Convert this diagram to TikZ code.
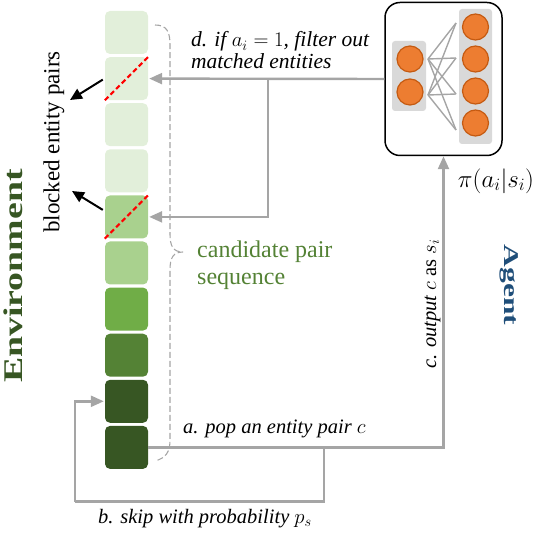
\documentclass[tikz,border=0pt]{standalone}
\usepackage{fontspec}
\setmainfont{Liberation Serif}
\usetikzlibrary{arrows.meta,calc}
\definecolor{gA}{HTML}{E2EFDA}
\definecolor{gB}{HTML}{A9D18E}
\definecolor{gC}{HTML}{70AD47}
\definecolor{gD}{HTML}{548235}
\definecolor{gE}{HTML}{375623}
\definecolor{arrgray}{HTML}{A5A5A5}
\definecolor{nnfill}{HTML}{ED7D31}
\definecolor{nnedge}{HTML}{C55A11}
\definecolor{panel}{HTML}{D9D9D9}
\definecolor{agentblue}{HTML}{1F4E79}
\begin{document}
\begin{tikzpicture}[x=1pt,y=-1pt,
  sq/.style={minimum size=43pt,inner sep=0pt,rounded corners=5pt,draw=none},
  reddash/.style={draw=red,line width=2pt,dash pattern=on 5pt off 3pt},
  blkarrow/.style={draw=black,line width=2pt,-{Triangle[length=12pt,width=11pt]}},
  garrow/.style={draw=arrgray,line width=2.4pt,-{Triangle[length=13pt,width=11pt]}},
  gline/.style={draw=arrgray,line width=2.4pt},
  bracestyle/.style={draw=arrgray,line width=1.1pt,dash pattern=on 6pt off 3pt},
  neuron/.style={circle,fill=nnfill,draw=nnedge,line width=1.2pt,minimum size=26pt,inner sep=0pt},
  conn/.style={draw=arrgray,line width=1.4pt},
  lbl/.style={font=\fontsize{20.5}{22}\selectfont\itshape,inner sep=0pt}
]
\useasboundingbox (0,0) rectangle (538,534);

% candidate sequence
\foreach \i/\c in {1/gA,2/gA,3/gA,4/gA,5/gB,6/gB,7/gC,8/gD,9/gE,10/gE}
  \node[sq,fill=\c] (s\i) at (126.5,{32.5+(\i-1)*46.1}) {};

\draw[reddash] (s2.south west) -- (s2.north east);
\draw[reddash] (s5.south west) -- (s5.north east);

% blocked pairs
\coordinate (b1) at (70,100);
\coordinate (b2) at (72,191);
\draw[blkarrow] ($(s2.west)+(-2,1)$) -- (b1);
\draw[blkarrow] ($(s5.west)+(-2,-7)$) -- (b2);
\node[rotate=90,font=\fontsize{23}{25}\selectfont,inner sep=0pt] (blk) at (54,142) {blocked entity pairs};

% Environment / Agent
\node[rotate=90,text=gE,inner sep=0pt] (env) at (13,276) {\scalebox{1.4}[1]{\fontsize{27}{29}\selectfont\bfseries Environment}};
\node[rotate=-90,text=agentblue,inner sep=0pt] (agent) at (509,285) {\scalebox{1.5}[1]{\fontsize{21}{23}\selectfont\bfseries Agent}};

% brace
\draw[bracestyle] (155,25) .. controls (167,25) and (170,32) .. (170,45) -- (170,234)
  .. controls (170,246) and (173,252) .. (183,252)
  .. controls (173,252) and (170,258) .. (170,270) -- (170,440)
  .. controls (170,452) and (166,458) .. (155,461);
\node[anchor=base west,text=gD,font=\fontsize{24}{27}\selectfont,inner sep=0pt] (cand1) at (197,258) {candidate pair};
\node[anchor=base west,text=gD,font=\fontsize{24}{27}\selectfont,inner sep=0pt] (cand2) at (197,285) {sequence};

% policy network
\node[draw=black,line width=1.5pt,rounded corners=15pt,minimum width=117pt,minimum height=153pt,inner sep=0pt] (nn) at (443.5,79) {};
\fill[panel,rounded corners=3pt] (392,41) rectangle (426,111);
\fill[panel,rounded corners=3pt] (459,9) rectangle (492,144);
\foreach \y in {23,58,94,130}{
  \draw[conn] (428,59) -- (456,\y);
  \draw[conn] (428,95) -- (456,\y);
}
\node[neuron] (l1) at (410,59) {};
\node[neuron] (l2) at (410,92) {};
\node[neuron] (r1) at (475.5,27) {};
\node[neuron] (r2) at (475.5,59) {};
\node[neuron] (r3) at (475.5,91) {};
\node[neuron] (r4) at (475.5,123) {};
\node[font=\fontsize{24}{26}\selectfont,inner sep=0pt] (pi) at (496,181) {$\pi(a_i|s_i)$};

% d: filter out
\coordinate (dj) at (268,79);
\draw[garrow,shorten >=1pt] (nn.west) -- (s2.east);
\draw[garrow,shorten >=1pt] (dj) |- (s5.east);
\node[lbl,anchor=base west,font=\fontsize{21.5}{22}\selectfont\itshape] (dlab1) at (191,47) {d. if $a_i=1$, filter out};
\node[lbl,anchor=base west,font=\fontsize{21.5}{22}\selectfont\itshape] (dlab2) at (191,69) {matched entities};

% a: pop, c: output
\draw[garrow] (s10.east) -| (nn.south);
\node[lbl,anchor=base west] (alab) at (183,433) {a. pop an entity pair $c$};
\node[lbl,rotate=90,anchor=base] (clab) at (436,304) {c. output $c$ \upshape as $s_i$};

% b: skip
\coordinate (bj) at (324,447.5);
\coordinate (bl) at (75,501.5);
\draw[gline] (bj) |- (bl);
\draw[garrow,shorten >=1pt] (bl) |- (s9.west);
\node[lbl,anchor=base west] (blab) at (98,523) {b. skip with probability $p_s$};
\end{tikzpicture}
\end{document}
